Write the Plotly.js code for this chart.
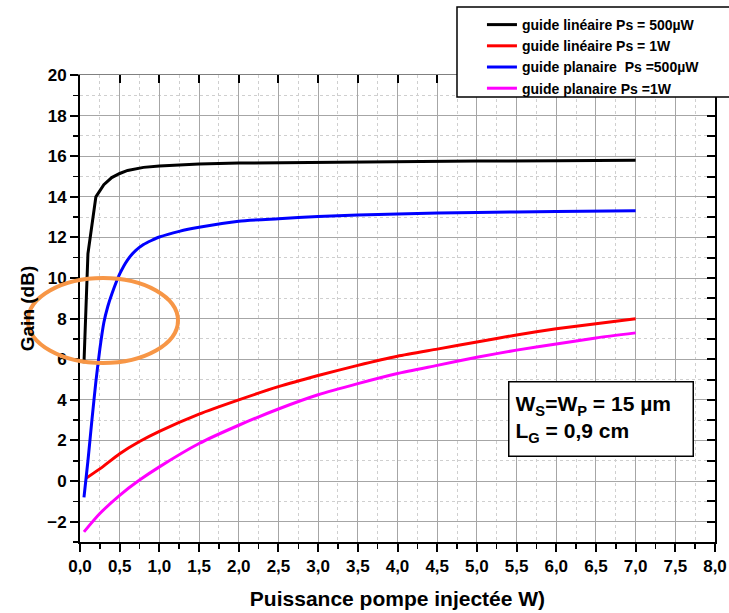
<!DOCTYPE html>
<html>
<head>
<meta charset="utf-8">
<script src="https://cdn.plot.ly/plotly-3.0.1.min.js"></script>
<style>html,body{margin:0;padding:0;background:#fff;}#chart{width:729px;height:613px;}</style>
</head>
<body>
<div id="chart"></div>
<script>
// Series data
const linPs500_x = [0.05, 0.1, 0.2, 0.3, 0.4, 0.5, 0.6, 0.8, 1.0, 1.5, 2.0, 3.0, 4.0, 5.0, 6.0, 7.0];
const linPs500_y = [5.8, 11.2, 14.0, 14.6, 14.95, 15.15, 15.3, 15.45, 15.52, 15.62, 15.66, 15.7, 15.74, 15.76, 15.78, 15.8];

const lin1W_x = [0.08, 0.25, 0.5, 0.75, 1.0, 1.5, 2.0, 2.5, 3.0, 3.5, 4.0, 4.5, 5.0, 5.5, 6.0, 6.5, 7.0];
const lin1W_y = [0.15, 0.6, 1.35, 1.95, 2.45, 3.3, 4.0, 4.65, 5.2, 5.7, 6.15, 6.5, 6.85, 7.2, 7.5, 7.75, 8.0];

const plan500_x = [0.05, 0.1, 0.15, 0.2, 0.25, 0.3, 0.35, 0.4, 0.5, 0.6, 0.7, 0.8, 0.9, 1.0, 1.25, 1.5, 2.0, 2.5, 3.0, 3.5, 4.0, 5.0, 6.0, 7.0];
const plan500_y = [-0.8, 1.0, 3.0, 4.9, 6.5, 7.8, 8.6, 9.2, 10.2, 10.9, 11.35, 11.65, 11.85, 12.02, 12.3, 12.5, 12.8, 12.92, 13.03, 13.1, 13.16, 13.23, 13.28, 13.32];

const plan1W_x = [0.05, 0.25, 0.5, 0.75, 1.0, 1.5, 2.0, 2.5, 3.0, 3.5, 4.0, 4.5, 5.0, 5.5, 6.0, 6.5, 7.0];
const plan1W_y = [-2.5, -1.6, -0.7, 0.05, 0.7, 1.85, 2.75, 3.55, 4.25, 4.8, 5.3, 5.7, 6.1, 6.45, 6.75, 7.05, 7.3];

const seriesNames = ["guide linéaire Ps = 500µW", "guide linéaire Ps = 1W", "guide planaire  Ps =500µW", "guide planaire Ps =1W"];
const seriesColors = ["#000000", "#ff0000", "#0000ff", "#ff00ff"];
const seriesShapes = ["linear", "spline", "spline", "spline"];

const xTitle = "Puissance pompe injectée W)";
const yTitle = "Gain (dB)";
const noteText = "W<sub>S</sub>=W<sub>P</sub> = 15 µm<br>L<sub>G</sub> = 0,9 cm";

const FONT = "Liberation Sans, Arial, sans-serif";

const xs = [linPs500_x, lin1W_x, plan500_x, plan1W_x];
const ys = [linPs500_y, lin1W_y, plan500_y, plan1W_y];

const data = xs.map((x, i) => ({
  type: "scatter", mode: "lines", x: x, y: ys[i], name: seriesNames[i],
  line: {color: seriesColors[i], width: 3, shape: seriesShapes[i], smoothing: 0.6}
}));
// helper trace so the mirrored top/right axes are drawn
data.push({type: "scatter", mode: "lines", x: [], y: [], xaxis: "x2", yaxis: "y2", showlegend: false, hoverinfo: "skip"});

const layout = {
  width: 729, height: 613,
  margin: {l: 80, r: 14, t: 75, b: 71, autoexpand: false},
  paper_bgcolor: "#ffffff", plot_bgcolor: "#ffffff",
  separators: ",.",
  font: {family: FONT, color: "#000", weight: "bold"},
  showlegend: true,
  legend: {
    x: 0.633, y: 1.1413, xanchor: "left", yanchor: "top",
    bgcolor: "rgba(0,0,0,0)", borderwidth: 0,
    font: {family: FONT, size: 14, color: "#000", weight: "bold"},
    traceorder: "normal", tracegroupgap: 0
  },
  xaxis: {
    range: [0, 8], tick0: 0, dtick: 0.5, tickformat: ".1f",
    ticks: "outside", ticklen: 8, tickwidth: 2, tickcolor: "#000",
    showline: true, linecolor: "#000", linewidth: 2, zeroline: false,
    showgrid: true, gridcolor: "#a6a6a6", gridwidth: 1,
    tickfont: {family: FONT, size: 17, weight: "bold"},
    minor: {dtick: 0.25, ticks: "outside", ticklen: 5, tickwidth: 1.5, tickcolor: "#000", showgrid: true, gridcolor: "#cfcfcf", griddash: "dot", gridwidth: 1},
    title: {text: xTitle, font: {family: FONT, size: 21, weight: "bold"}, standoff: 16}
  },
  yaxis: {
    range: [-3, 20], tick0: 0, dtick: 2,
    ticks: "outside", ticklen: 8, tickwidth: 2, tickcolor: "#000",
    showline: true, linecolor: "#000", linewidth: 2, zeroline: false,
    showgrid: true, gridcolor: "#a6a6a6", gridwidth: 1,
    tickfont: {family: FONT, size: 17, weight: "bold"},
    minor: {dtick: 1, ticks: "outside", ticklen: 5, tickwidth: 1.5, tickcolor: "#000", showgrid: true, gridcolor: "#cfcfcf", griddash: "dot", gridwidth: 1},
    title: {text: yTitle, font: {family: FONT, size: 19, weight: "bold"}, standoff: 8}
  },
  xaxis2: {
    overlaying: "x", side: "top", anchor: "y2", range: [0, 8], tick0: 0, dtick: 0.5,
    ticks: "inside", ticklen: 8, tickwidth: 2, tickcolor: "#000",
    showticklabels: false, showgrid: false, zeroline: false,
    showline: true, linecolor: "#808080", linewidth: 1
  },
  yaxis2: {
    overlaying: "y", side: "right", anchor: "x2", range: [-3, 20], tick0: 0, dtick: 1,
    ticks: "inside", ticklen: 8, tickwidth: 2, tickcolor: "#000",
    showticklabels: false, showgrid: false, zeroline: false,
    showline: true, linecolor: "#000", linewidth: 2
  },
  annotations: [{
    xref: "paper", yref: "paper", x: 0.674, y: 0.3448, xanchor: "left", yanchor: "top",
    text: noteText, showarrow: false, align: "left", width: 171, height: 61,
    font: {family: FONT, size: 21, color: "#000", weight: "bold"},
    bgcolor: "#ffffff", bordercolor: "#000", borderwidth: 1.5, borderpad: 6
  }],
  shapes: [
    {
      type: "rect", xref: "paper", yref: "paper",
      x0: 0.5937, x1: 1.06, y0: 0.9529, y1: 1.1456,
      fillcolor: "#ffffff", line: {color: "#000", width: 1.5}, layer: "above"
    },
    {
      type: "circle", xref: "paper", yref: "paper",
      x0: -0.0819, x1: 0.1543, y0: 0.3833, y1: 0.5653,
      line: {color: "#F79646", width: 4}, layer: "above"
    }
  ]
};

Plotly.newPlot("chart", data, layout, {displayModeBar: false, staticPlot: true});
</script>
</body>
</html>
